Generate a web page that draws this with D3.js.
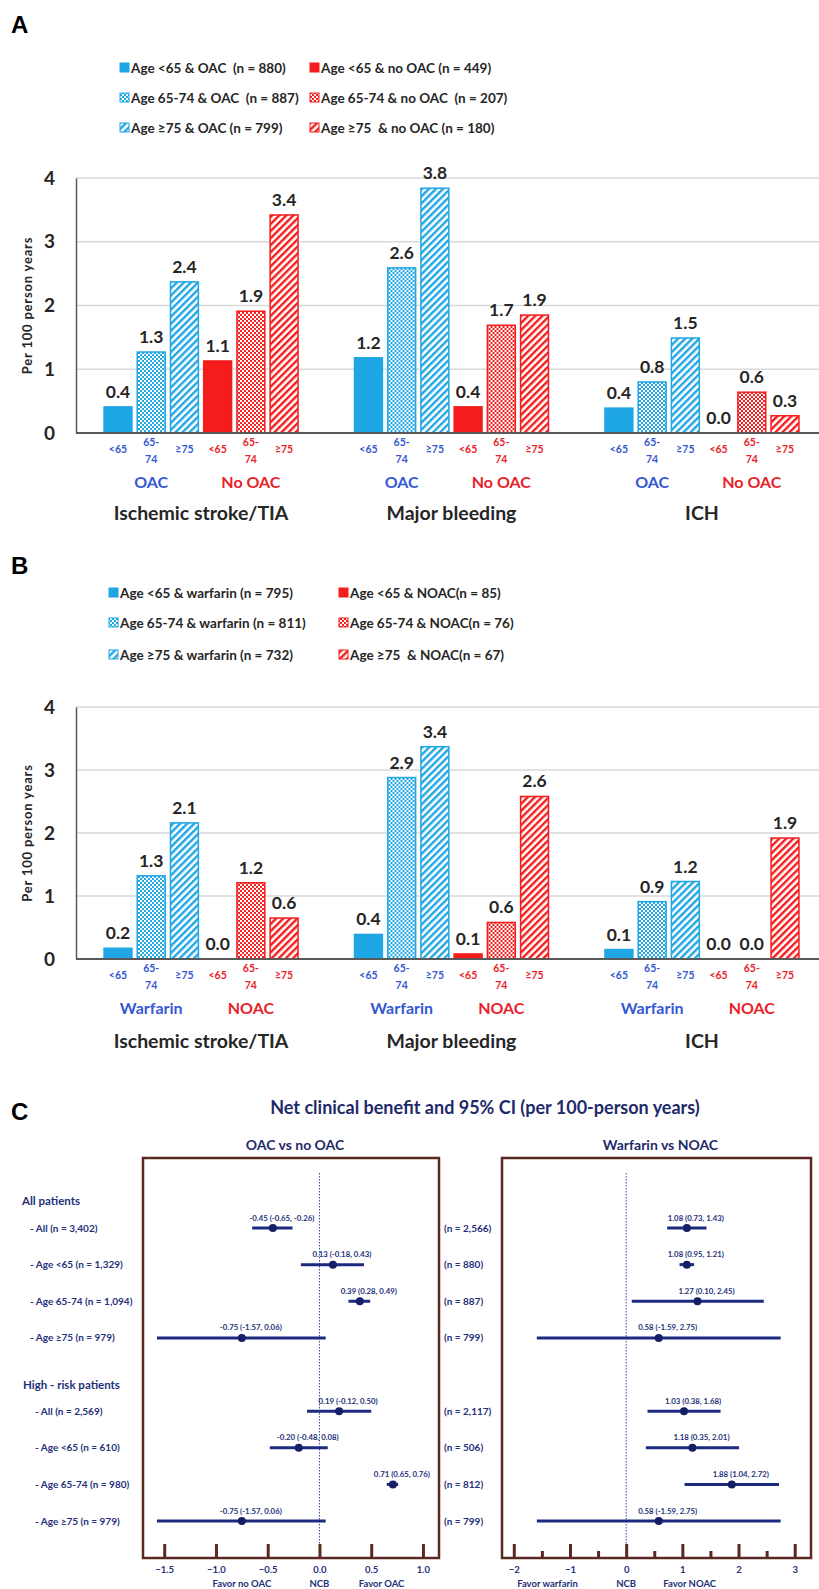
<!DOCTYPE html>
<html>
<head>
<meta charset="utf-8">
<script src="https://cdn.jsdelivr.net/npm/d3@7"></script>
<style>
  body { margin: 0; background: #fff; }
  svg { display: block; font-family: Lato, "Open Sans", sans-serif; }
</style>
</head>
<body>
<script>
// ---- data ----
var outcomes = ["Ischemic stroke/TIA", "Major bleeding", "ICH"];
var ageTicks = [["<65"], ["65-", "74"], ["\u226575"]];

// panel A : OAC vs no OAC (bars: OAC <65, 65-74, >=75, no OAC <65, 65-74, >=75)
var treatA = ["OAC", "No OAC"];
var legendA = ["Age <65 & OAC  (n = 880)", "Age 65-74 & OAC  (n = 887)", "Age \u226575 & OAC (n = 799)",
               "Age <65 & no OAC (n = 449)", "Age 65-74 & no OAC  (n = 207)", "Age \u226575  & no OAC (n = 180)"];
var valuesA = [
  [0.41, 1.27, 2.37, 1.13, 1.91, 3.42],
  [1.18, 2.59, 3.84, 0.41, 1.69, 1.85],
  [0.39, 0.80, 1.49, 0.00, 0.64, 0.27]
];
var labelsA = [
  ["0.4", "1.3", "2.4", "1.1", "1.9", "3.4"],
  ["1.2", "2.6", "3.8", "0.4", "1.7", "1.9"],
  ["0.4", "0.8", "1.5", "0.0", "0.6", "0.3"]
];

// panel B : warfarin vs NOAC
var treatB = ["Warfarin", "NOAC"];
var legendB = ["Age <65 & warfarin (n = 795)", "Age 65-74 & warfarin (n = 811)", "Age \u226575 & warfarin (n = 732)",
               "Age <65 & NOAC(n = 85)", "Age 65-74 & NOAC(n = 76)", "Age \u226575  & NOAC(n = 67)"];
var valuesB = [
  [0.17, 1.32, 2.16, 0.00, 1.21, 0.65],
  [0.39, 2.88, 3.37, 0.08, 0.58, 2.58],
  [0.15, 0.91, 1.23, 0.00, 0.00, 1.92]
];
var labelsB = [
  ["0.2", "1.3", "2.1", "0.0", "1.2", "0.6"],
  ["0.4", "2.9", "3.4", "0.1", "0.6", "2.6"],
  ["0.1", "0.9", "1.2", "0.0", "0.0", "1.9"]
];

// panel C : net clinical benefit
var headers = ["All patients", "High - risk patients"];
var headerIndex = [-1, 4];
var rowIndex = [0, 1, 2, 3, 5, 6, 7, 8];
var rowLabels = ["- All (n = 3,402)", "- Age <65 (n = 1,329)", "- Age 65-74 (n = 1,094)", "- Age \u226575 (n = 979)",
                 "- All (n = 2,569)", "- Age <65 (n = 610)", "- Age 65-74 (n = 980)", "- Age \u226575 (n = 979)"];
var oacEst = [-0.45, 0.13, 0.39, -0.75, 0.19, -0.20, 0.71, -0.75];
var oacLo  = [-0.65, -0.18, 0.28, -1.57, -0.12, -0.48, 0.65, -1.57];
var oacHi  = [-0.26, 0.43, 0.49, 0.06, 0.50, 0.08, 0.76, 0.06];
var noacN  = ["(n = 2,566)", "(n = 880)", "(n = 887)", "(n = 799)", "(n = 2,117)", "(n = 506)", "(n = 812)", "(n = 799)"];
var warEst = [1.08, 1.08, 1.27, 0.58, 1.03, 1.18, 1.88, 0.58];
var warLo  = [0.73, 0.95, 0.10, -1.59, 0.38, 0.35, 1.04, -1.59];
var warHi  = [1.43, 1.21, 2.45, 2.75, 1.68, 2.01, 2.72, 2.75];
var leftTicks = [-1.5, -1.0, -0.5, 0.0, 0.5, 1.0];
var rightTicks = [-2, -1, 0, 1, 2, 3];
var rightMinor = [-1.5, -0.5, 0.5, 1.5, 2.5];

// ---- setup ----
var width = 819, height = 1589;
var blue = "#1fa6e4", red = "#f41c1c";
var blueText = "#3558d4", redText = "#e8232a";
var navy = "#25307a", brown = "#5a2a20";

var svg = d3.select("body").append("svg")
    .attr("width", width)
    .attr("height", height);

var defs = svg.append("defs");

function checkPattern(id, color) {
    var p = defs.append("pattern").attr("id", id)
        .attr("patternUnits", "userSpaceOnUse")
        .attr("width", 4).attr("height", 4);
    p.append("rect").attr("width", 4).attr("height", 4).attr("fill", color);
    p.append("rect").attr("width", 2).attr("height", 2).attr("fill", "#fff");
    p.append("rect").attr("x", 2).attr("y", 2).attr("width", 2).attr("height", 2).attr("fill", "#fff");
}
function stripePattern(id, color) {
    var p = defs.append("pattern").attr("id", id)
        .attr("patternUnits", "userSpaceOnUse")
        .attr("width", 5).attr("height", 5)
        .attr("patternTransform", "rotate(45)");
    p.append("rect").attr("width", 5).attr("height", 5).attr("fill", "#fff");
    p.append("rect").attr("width", 2.4).attr("height", 5).attr("fill", color);
}
checkPattern("chkBlue", blue);
checkPattern("chkRed", red);
stripePattern("strBlue", blue);
stripePattern("strRed", red);

function fillFor(j) {
    var c = j < 3 ? "Blue" : "Red";
    if (j % 3 == 0) return j < 3 ? blue : red;
    if (j % 3 == 1) return "url(#chk" + c + ")";
    return "url(#str" + c + ")";
}

function panelLetter(txt, yy) {
    svg.append("text")
        .attr("x", 11).attr("y", yy)
        .style("font-family", "'Liberation Sans', Arial, sans-serif")
        .style("font-weight", "bold")
        .style("font-size", "24px")
        .text(txt);
}

function legend(items, rowY, sqX, txtX) {
    items.forEach(function(t, j) {
        var col = j < 3 ? 0 : 1, yy = rowY[j % 3];
        svg.append("rect")
            .attr("x", sqX[col]).attr("y", yy - 5)
            .attr("width", 9).attr("height", 9)
            .attr("fill", fillFor(j))
            .attr("stroke", j < 3 ? blue : red).attr("stroke-width", 1);
        svg.append("text")
            .attr("x", txtX[col]).attr("y", yy + 5)
            .style("white-space", "pre")
            .style("font-size", "13.5px")
            .style("font-weight", "bold")
            .attr("fill", "#262626")
            .text(t);
    });
}

function barPanel(cfg) {
    var y = d3.scaleLinear().domain([0, 4]).range([cfg.zeroY, cfg.topY]);
    var x0 = d3.scaleBand().domain(outcomes).range([76, 827]).paddingInner(0.2255).paddingOuter(0.112);
    var x1 = d3.scaleBand().domain(d3.range(6)).range([0, x0.bandwidth()]).paddingInner(0.16);

    var g = svg.append("g");

    g.selectAll("line.grid")
        .data(y.ticks(4).filter(function(d) { return d > 0; }))
        .join("line")
            .attr("class", "grid")
            .attr("x1", 76).attr("x2", width)
            .attr("y1", y).attr("y2", y)
            .attr("stroke", "#d9d9d9").attr("stroke-width", 1.5);

    var yAxis = g.append("g")
        .attr("transform", "translate(76,0)")
        .call(d3.axisLeft(y).ticks(4).tickSize(0).tickSizeOuter(0).tickPadding(21).tickFormat(d3.format("d")));
    yAxis.select(".domain").attr("stroke", "#595959").attr("stroke-width", 1.5);
    yAxis.selectAll("text")
        .style("font-family", "Lato, sans-serif")
        .style("font-size", "19px").style("font-weight", "bold")
        .attr("fill", "#262626");

    g.append("text")
        .attr("transform", "translate(32," + (cfg.zeroY + cfg.topY) / 2 + ") rotate(-90)")
        .attr("text-anchor", "middle")
        .style("font-size", "13px").style("font-weight", "bold")
        .style("letter-spacing", "0.8px")
        .attr("fill", "#262626")
        .text("Per 100 person years");

    outcomes.forEach(function(o, i) {
        var og = g.append("g").attr("transform", "translate(" + x0(o) + ",0)");
        var bars = d3.range(6).map(function(j) {
            return { j: j, v: cfg.values[i][j], label: cfg.labels[i][j] };
        });

        og.selectAll("rect.bar")
            .data(bars.filter(function(d) { return d.v > 0; }))
            .join("rect")
                .attr("class", "bar")
                .attr("x", function(d) { return x1(d.j); })
                .attr("width", x1.bandwidth())
                .attr("y", function(d) { return y(d.v); })
                .attr("height", function(d) { return y(0) - y(d.v); })
                .attr("fill", function(d) { return fillFor(d.j); })
                .attr("stroke", function(d) { return d.j < 3 ? blue : red; })
                .attr("stroke-width", 1.5);

        og.selectAll("text.val")
            .data(bars)
            .join("text")
                .attr("class", "val")
                .attr("x", function(d) { return x1(d.j) + x1.bandwidth() / 2; })
                .attr("y", function(d) { return y(d.v) - 9; })
                .attr("text-anchor", "middle")
                .style("font-size", "17.5px").style("font-weight", "bold")
                .attr("fill", "#262626")
                .text(function(d) { return d.label; });

        bars.forEach(function(d) {
            var lines = ageTicks[d.j % 3];
            var t = og.append("text")
                .attr("text-anchor", "middle")
                .style("font-size", "10.5px").style("font-weight", "bold")
                .attr("fill", d.j < 3 ? blueText : redText);
            lines.forEach(function(l, k) {
                t.append("tspan")
                    .attr("x", x1(d.j) + x1.bandwidth() / 2)
                    .attr("y", lines.length == 1 ? cfg.zeroY + 20 : cfg.zeroY + 13 + k * 17)
                    .text(l);
            });
        });

        cfg.treat.forEach(function(tr, k) {
            var xa = x1(k * 3), xb = x1(k * 3 + 2) + x1.bandwidth();
            og.append("text")
                .attr("x", (xa + xb) / 2).attr("y", cfg.zeroY + 55)
                .attr("text-anchor", "middle")
                .style("font-size", "16px").style("font-weight", "bold")
                .attr("fill", k == 0 ? blueText : redText)
                .text(tr);
        });

        og.append("text")
            .attr("x", x0.bandwidth() / 2).attr("y", cfg.zeroY + cfg.catDy)
            .attr("text-anchor", "middle")
            .style("font-size", "19.5px").style("font-weight", "bold")
            .attr("fill", "#262626")
            .text(o);
    });

    g.append("line")
        .attr("x1", 76).attr("x2", width)
        .attr("y1", y(0)).attr("y2", y(0))
        .attr("stroke", "#595959").attr("stroke-width", 2);
}

// ---- panel A ----
panelLetter("A", 33);
legend(legendA, [68, 98, 128], [120, 310], [131, 321]);
barPanel({ zeroY: 433, topY: 178, values: valuesA, labels: labelsA, treat: treatA, catDy: 87 });

// ---- panel B ----
panelLetter("B", 574);
legend(legendB, [593, 623, 655], [109, 339], [120, 350]);
barPanel({ zeroY: 959, topY: 707, values: valuesB, labels: labelsB, treat: treatB, catDy: 89 });

// ---- panel C ----
panelLetter("C", 1120);

svg.append("text")
    .attr("x", 485).attr("y", 1114)
    .attr("text-anchor", "middle")
    .style("font-size", "18px").style("font-weight", "bold")
    .attr("fill", "#1f2a6b")
    .text("Net clinical benefit and 95% CI (per 100-person years)");

var boxTop = 1158, boxBottom = 1558;
var rowY = d3.scaleLinear().domain([0, 8]).range([1228, 1521]);

headers.forEach(function(h, k) {
    svg.append("text")
        .attr("x", 22 + k).attr("y", rowY(headerIndex[k]) + 14)
        .style("font-size", "11.5px").style("font-weight", "bold")
        .attr("fill", navy)
        .text(h);
});

svg.selectAll("text.rowlab")
    .data(rowLabels)
    .join("text")
        .attr("class", "rowlab")
        .attr("x", function(d, i) { return i < 4 ? 30 : 35; })
        .attr("y", function(d, i) { return rowY(rowIndex[i]) + 3.5; })
        .style("font-size", "10px").style("font-weight", "bold")
        .attr("fill", navy)
        .text(function(d) { return d; });

svg.selectAll("text.nlab")
    .data(noacN)
    .join("text")
        .attr("class", "nlab")
        .attr("x", 444)
        .attr("y", function(d, i) { return rowY(rowIndex[i]) + 3.5; })
        .style("font-size", "10px").style("font-weight", "bold")
        .attr("fill", navy)
        .text(function(d) { return d; });

function forest(cfg) {
    var x = d3.scaleLinear().domain(cfg.domain).range(cfg.range);
    var g = svg.append("g");

    g.append("text")
        .attr("x", (cfg.range[0] + cfg.range[1]) / 2 + 4).attr("y", 1150)
        .attr("text-anchor", "middle")
        .style("font-size", "14px").style("font-weight", "bold")
        .attr("fill", "#1f2a6b")
        .text(cfg.title);

    g.append("rect")
        .attr("x", cfg.range[0]).attr("y", boxTop)
        .attr("width", cfg.range[1] - cfg.range[0]).attr("height", boxBottom - boxTop)
        .attr("fill", "none").attr("stroke", brown).attr("stroke-width", 2.5);

    g.append("line")
        .attr("x1", x(0)).attr("x2", x(0))
        .attr("y1", boxTop + 15).attr("y2", boxBottom - 13)
        .attr("stroke", "#3a4aa8").attr("stroke-width", 1)
        .attr("stroke-dasharray", "1.5,1.5");

    var rows = cfg.est.map(function(e, i) {
        return { e: e, lo: cfg.lo[i], hi: cfg.hi[i], r: rowIndex[i] };
    });

    g.selectAll("line.ci")
        .data(rows)
        .join("line")
            .attr("class", "ci")
            .attr("x1", function(d) { return x(d.lo); })
            .attr("x2", function(d) { return x(d.hi); })
            .attr("y1", function(d) { return rowY(d.r); })
            .attr("y2", function(d) { return rowY(d.r); })
            .attr("stroke", "#1c2a80").attr("stroke-width", 3);

    g.selectAll("circle.pt")
        .data(rows)
        .join("circle")
            .attr("class", "pt")
            .attr("cx", function(d) { return x(d.e); })
            .attr("cy", function(d) { return rowY(d.r); })
            .attr("r", 4)
            .attr("fill", "#141f66");

    g.selectAll("text.ci")
        .data(rows)
        .join("text")
            .attr("class", "ci")
            .attr("x", function(d) { return x(d.e) + 9; })
            .attr("y", function(d) { return rowY(d.r) - 7.5; })
            .attr("text-anchor", "middle")
            .style("font-size", "7.8px").style("font-weight", "bold")
            .attr("fill", navy)
            .text(function(d) {
                return d.e.toFixed(2) + " (" + d.lo.toFixed(2) + ", " + d.hi.toFixed(2) + ")";
            });

    var ax = g.append("g")
        .attr("transform", "translate(0," + boxBottom + ")")
        .call(d3.axisBottom(x).tickValues(cfg.ticks).tickSizeInner(-14).tickSizeOuter(0)
            .tickPadding(8).tickFormat(cfg.format));
    ax.select(".domain").remove();
    ax.selectAll(".tick line").attr("stroke", brown).attr("stroke-width", 3);
    ax.selectAll(".tick text")
        .style("font-family", "Lato, sans-serif")
        .style("font-size", "9.5px").style("font-weight", "bold")
        .attr("fill", navy);

    if (cfg.minor) {
        var mx = g.append("g")
            .attr("transform", "translate(0," + boxBottom + ")")
            .call(d3.axisBottom(x).tickValues(cfg.minor).tickSizeInner(-7).tickSizeOuter(0).tickFormat(""));
        mx.select(".domain").remove();
        mx.selectAll(".tick line").attr("stroke", brown).attr("stroke-width", 3);
    }

    g.selectAll("text.favor")
        .data(cfg.favor)
        .join("text")
            .attr("class", "favor")
            .attr("x", function(d) { return x(d[0]); })
            .attr("y", 1587)
            .attr("text-anchor", "middle")
            .style("font-size", "9.5px").style("font-weight", "bold")
            .attr("fill", navy)
            .text(function(d) { return d[1]; });
}

forest({
    title: "OAC vs no OAC",
    domain: [-1.705, 1.155], range: [143, 439],
    est: oacEst, lo: oacLo, hi: oacHi,
    ticks: leftTicks, format: d3.format(".1f"),
    favor: [[-0.75, "Favor no OAC"], [0, "NCB"], [0.6, "Favor OAC"]]
});

forest({
    title: "Warfarin vs NOAC",
    domain: [-2.21, 3.29], range: [502, 811],
    est: warEst, lo: warLo, hi: warHi,
    ticks: rightTicks, minor: rightMinor, format: d3.format("d"),
    favor: [[-1.4, "Favor warfarin"], [0, "NCB"], [1.13, "Favor NOAC"]]
});
</script>
</body>
</html>
